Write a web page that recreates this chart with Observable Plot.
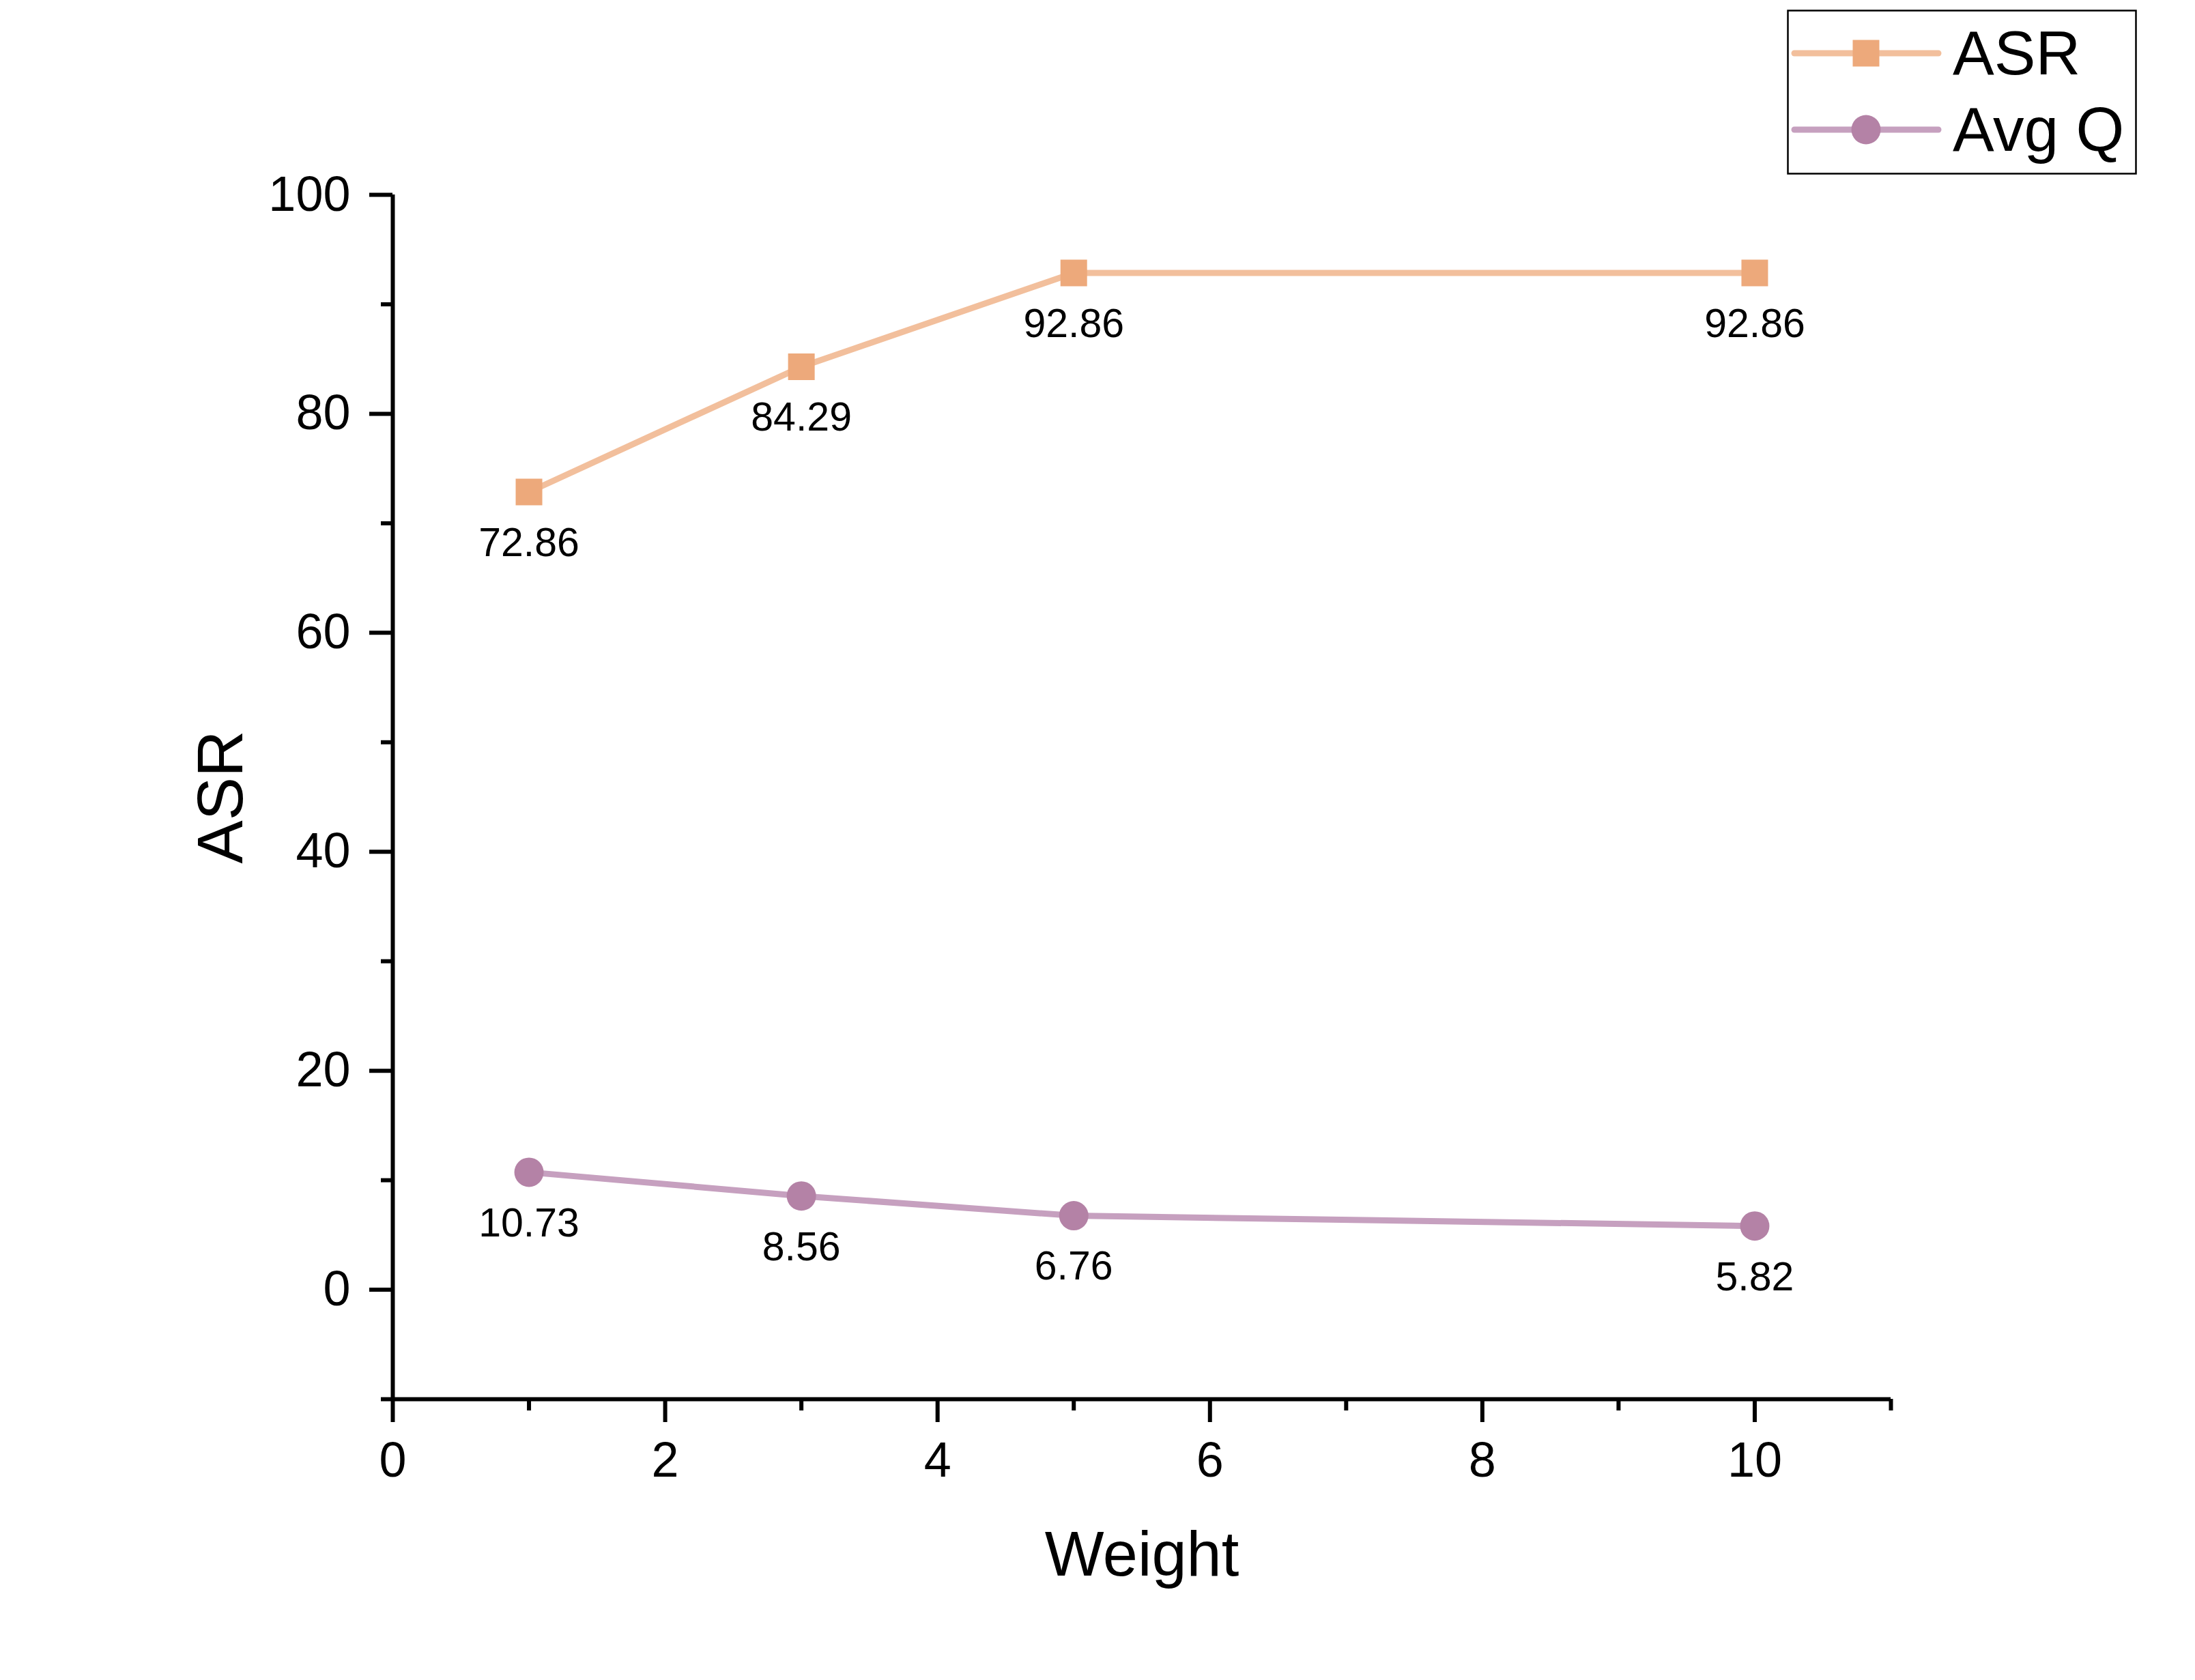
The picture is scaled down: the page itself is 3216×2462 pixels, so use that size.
<!DOCTYPE html>
<html><head><meta charset="utf-8">
<script src="https://cdn.jsdelivr.net/npm/d3@7"></script>
<script src="https://cdn.jsdelivr.net/npm/@observablehq/plot@0.6"></script>
<style>
html,body{margin:0;padding:0;background:#fff;}
#wrap{position:relative;width:3216px;height:2462px;font-family:"Liberation Sans",Arial,sans-serif;}
</style></head><body><div id="wrap"></div>
<script>
const weights = [1, 3, 5, 10];
const asr = [72.86, 84.29, 92.86, 92.86];
const avgQ = [10.73, 8.56, 6.76, 5.82];
const seriesNames = ["ASR", "Avg Q"];
const lineColors = ["#F2BF9C", "#C6A0BF"];
const markerColors = ["#EDA97B", "#B482A6"];
const markerSymbols = ["square", "circle"];
const xMajorTicks = [0, 2, 4, 6, 8, 10];
const xMinorTicks = [1, 3, 5, 7, 9, 11];
const yMajorTicks = [0, 20, 40, 60, 80, 100];
const yMinorTicks = [-10, 10, 30, 50, 70, 90];
const xLabel = "Weight";
const yLabel = "ASR";

const seriesValues = [asr, avgQ];
const font = "Liberation Sans, Arial, sans-serif";

const marks = [];
seriesValues.forEach((vals, s) => {
  const rows = vals.map((v, i) => ({weight: weights[i], value: v}));
  marks.push(Plot.line(rows, {x: "weight", y: "value", stroke: lineColors[s], strokeWidth: 9}));
  marks.push(Plot.dot(rows, {x: "weight", y: "value", symbol: markerSymbols[s], r: markerSymbols[s] === "square" ? 22 : 21.5, fill: markerColors[s], stroke: "none"}));
  marks.push(Plot.text(rows, {x: "weight", y: "value", text: d => d.value.toFixed(2), dy: 75, fontSize: 59, fill: "black"}));
});

marks.push(Plot.ruleX([0], {stroke: "black", strokeWidth: 6}));
marks.push(Plot.ruleY([-10], {stroke: "black", strokeWidth: 6}));

marks.push(Plot.axisX(xMajorTicks, {tickSize: 34, tickPadding: 28, fontSize: 72, strokeWidth: 6, stroke: "black", fill: "black", label: null, tickFormat: d => String(d)}));
marks.push(Plot.axisX(xMinorTicks, {tickSize: 17, strokeWidth: 6, stroke: "black", fill: "none", label: null}));
marks.push(Plot.axisY(yMajorTicks, {tickSize: 34, tickPadding: 28, fontSize: 72, strokeWidth: 6, stroke: "black", fill: "black", label: null, tickFormat: d => String(d)}));
marks.push(Plot.axisY(yMinorTicks, {tickSize: 17, strokeWidth: 6, stroke: "black", fill: "none", label: null}));

marks.push(Plot.axisX([], {tickSize: 0, fontSize: 92, fill: "black", label: xLabel, labelAnchor: "center", labelOffset: 258, labelArrow: "none"}));
marks.push(Plot.axisY([], {tickSize: 0, fontSize: 95, fill: "black", label: yLabel, labelAnchor: "center", labelOffset: 288, labelArrow: "none"}));

const chart = Plot.plot({
  width: 3216,
  height: 2462,
  marginLeft: 575,
  marginRight: 446,
  marginTop: 285,
  marginBottom: 412,
  x: {domain: [0, 11]},
  y: {domain: [-10, 100]},
  style: {fontFamily: font, background: "white", color: "black", overflow: "visible"},
  marks
});
document.getElementById("wrap").appendChild(chart);

// Legend (overlay box, top right)
const leg = d3.select("#wrap").append("svg")
  .attr("width", 514).attr("height", 242)
  .style("position", "absolute").style("left", "2618px").style("top", "14px");
leg.append("rect").attr("x", 1.5).attr("y", 1.5).attr("width", 510).attr("height", 239)
  .attr("fill", "white").attr("stroke", "black").attr("stroke-width", 2.5);
seriesNames.forEach((name, s) => {
  const cy = 64 + s * 112;
  leg.append("line").attr("x1", 11).attr("x2", 222).attr("y1", cy).attr("y2", cy)
    .attr("stroke", lineColors[s]).attr("stroke-width", 9).attr("stroke-linecap", "round");
  if (markerSymbols[s] === "square") {
    leg.append("rect").attr("x", 116 - 19.5).attr("y", cy - 19.5).attr("width", 39).attr("height", 39).attr("fill", markerColors[s]);
  } else {
    leg.append("circle").attr("cx", 116).attr("cy", cy).attr("r", 21.5).attr("fill", markerColors[s]);
  }
  leg.append("text").attr("x", 243).attr("y", cy + 31).attr("font-size", 91)
    .attr("font-family", font).attr("fill", "black").text(name);
});
</script>
</body></html>
